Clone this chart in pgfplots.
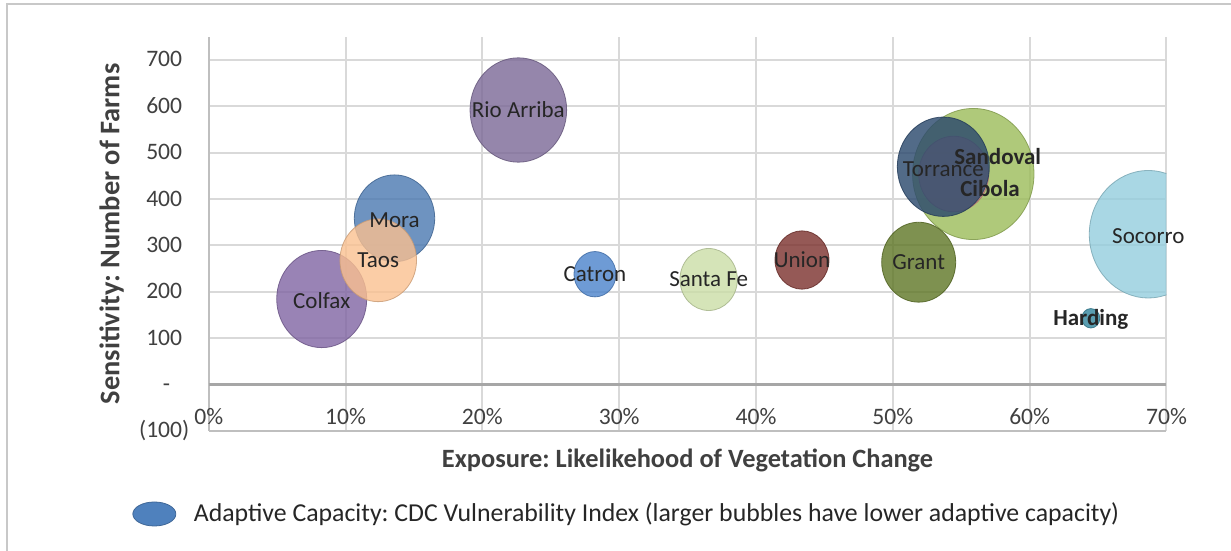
\documentclass[border=0pt]{standalone}
\usepackage{fontspec}
\setmainfont{Carlito}
\usepackage{pgfplots}
\usepackage{pgfplotstable}
\pgfplotsset{compat=1.18}
\frenchspacing
\definecolor{framegray}{HTML}{C8C8C8}
\definecolor{gridgray}{HTML}{D9D9D9}
\definecolor{axisgray}{HTML}{BFBFBF}
\definecolor{zerogray}{HTML}{A6A6A6}
\definecolor{ticktext}{HTML}{404040}
\definecolor{titletext}{HTML}{404040}
\definecolor{labeltext}{HTML}{262626}
\definecolor{cColfax}{HTML}{8064A2}
\definecolor{cRio}{HTML}{7A6896}
\definecolor{cMora}{HTML}{4A78B0}
\definecolor{cTaos}{HTML}{FAC090}
\definecolor{cCatron}{HTML}{4A82CA}
\definecolor{cSantaFe}{HTML}{CADDA6}
\definecolor{cUnion}{HTML}{7A302C}
\definecolor{cGrant}{HTML}{5E7524}
\definecolor{cTorrance}{HTML}{2C4A6E}
\definecolor{cSandoval}{HTML}{9BBB59}
\definecolor{cCibola}{HTML}{D88888}
\definecolor{cSocorro}{HTML}{93CDDD}
\definecolor{cHarding}{HTML}{31859C}
\definecolor{cLegend}{HTML}{4F81BD}
% x = exposure (%), y = number of farms, label offsets dx, dy in pt
\pgfplotstableread[col sep=comma]{
x,y,name,dx,dy
55.88,454,\textbf{Sandoval},12.2,8.65
54.45,454,\textbf{Cibola},18.15,-7.15
53.69,469.7,Torrance,0,-1.3
51.89,263.9,Grant,0,0
68.67,324.2,Socorro,0,-0.8
64.47,143,\textbf{Harding},0,-0.8
43.36,268.6,Union,0,0
36.54,226.6,Santa Fe,0,0
28.23,238,Catron,0,0
22.63,592,Rio Arriba,0,0
8.26,184.5,Colfax,0,-1
13.58,358.5,Mora,0,-0.8
12.39,268,Taos,0,0
}\bubbles
\pgfplotsset{
  commonaxis/.style={
    at={(104.35pt,60pt)}, anchor=south west,
    scale only axis, width=478.9pt, height=197.15pt,
    xmin=0, xmax=70, ymin=-100, ymax=750,
  }
}
\begin{document}
\begin{tikzpicture}[x=1pt,y=1pt]
\path[use as bounding box] (0,0) rectangle (615.5,275.5);
\draw[color=framegray, line width=1pt] (3.5,0) -- (3.5,273.5) -- (615.5,273.5);
\begin{axis}[
  commonaxis,
  xtick={0,10,...,70},
  xticklabels={0\%,10\%,20\%,30\%,40\%,50\%,60\%,70\%},
  ytick={-100,0,100,200,300,400,500,600,700},
  yticklabels={(100),{-\phantom{0)}},{100\phantom{)}},{200\phantom{)}},{300\phantom{)}},{400\phantom{)}},{500\phantom{)}},{600\phantom{)}},{700\phantom{)}}},
  axis x line*=bottom, axis y line*=left,
  axis line style={draw=axisgray, line width=1pt, -},
  major tick length=0pt,
  xmajorgrids, ymajorgrids,
  grid style={draw=gridgray, line width=1pt},
  extra y ticks={0}, extra y tick labels={},
  extra y tick style={grid style={draw=zerogray, line width=1.5pt}},
  tick label style={font=\fontsize{11.8}{14}\selectfont, text=ticktext},
  /pgf/number format/assume math mode=true,
  xticklabel style={anchor=base, yshift=3pt},
  yticklabel style={anchor=east, inner sep=0pt, xshift=-9.5pt},
  xlabel={Exposure: Likelikehood of Vegetation Change},
  ylabel={Sensitivity: Number of Farms},
  every axis x label/.style={at={(axis description cs:0.5,0)}, anchor=center, yshift=-14.5pt,
     font=\bfseries\fontsize{13.2}{15}\selectfont, text=titletext},
  every axis y label/.style={at={([xshift=-48.5pt]axis description cs:0,0.5)}, anchor=center, rotate=90,
     font=\bfseries\fontsize{14.2}{16}\selectfont, text=titletext},
  clip mode=individual,
  clip marker paths=true,
  bubble/.style n args={4}{only marks, mark=*, mark size=#1, forget plot,
     restrict expr to domain={\coordindex}{#4:#4},
     mark options={fill=#2, draw=#2!80!black, line width=0.4pt, fill opacity=#3, draw opacity=#3, yscale=1.08}},
  legend style={draw=none, fill=none, at={(axis description cs:-0.0863,-0.2105)}, anchor=west,
     font=\fontsize{12.9}{15}\selectfont, text=labeltext, legend cell align=left},
]
\addplot[bubble={30.35pt}{cSandoval}{0.8}{0}] table[x=x, y=y] {\bubbles};
\addplot[bubble={17.5pt}{cCibola}{0.8}{1}] table[x=x, y=y] {\bubbles};
\addplot[bubble={23pt}{cTorrance}{0.82}{2}] table[x=x, y=y] {\bubbles};
\addplot[bubble={18.5pt}{cGrant}{0.8}{3}] table[x=x, y=y] {\bubbles};
\addplot[bubble={29.5pt}{cSocorro}{0.8}{4}] table[x=x, y=y] {\bubbles};
\addplot[bubble={4.5pt}{cHarding}{0.8}{5}] table[x=x, y=y] {\bubbles};
\addplot[bubble={13.5pt}{cUnion}{0.8}{6}] table[x=x, y=y] {\bubbles};
\addplot[bubble={14.35pt}{cSantaFe}{0.8}{7}] table[x=x, y=y] {\bubbles};
\addplot[bubble={10.5pt}{cCatron}{0.8}{8}] table[x=x, y=y] {\bubbles};
\addplot[bubble={24.15pt}{cRio}{0.8}{9}] table[x=x, y=y] {\bubbles};
\addplot[bubble={22.5pt}{cColfax}{0.8}{10}] table[x=x, y=y] {\bubbles};
\addplot[bubble={20.1pt}{cMora}{0.8}{11}] table[x=x, y=y] {\bubbles};
\addplot[bubble={19.15pt}{cTaos}{0.8}{12}] table[x=x, y=y] {\bubbles};
\addlegendimage{legend image code/.code={\filldraw[fill=cLegend, draw=cLegend!80!black, line width=0.4pt] (10.75pt,0pt) ellipse [x radius=10.75pt, y radius=6pt]; \path[draw=none, fill=none] (0pt,0pt) -- (28.5pt,0pt);}}
\addlegendentry{Adaptive Capacity: CDC Vulnerability Index (larger bubbles have lower adaptive capacity)}
\end{axis}
% overlay axis for the bubble labels (not clipped)
\begin{axis}[commonaxis, hide axis, clip=false]
\addplot[only marks, mark=none, forget plot,
  point meta=explicit symbolic,
  visualization depends on={\thisrow{dx} \as \ldx},
  visualization depends on={\thisrow{dy} \as \ldy},
  nodes near coords,
  every node near coord/.style={anchor=center, xshift=\ldx pt, yshift=\ldy pt,
     font=\fontsize{11.5}{13}\selectfont, text=labeltext}]
  table[x=x, y=y, meta=name] {\bubbles};
\end{axis}
\end{tikzpicture}
\end{document}
